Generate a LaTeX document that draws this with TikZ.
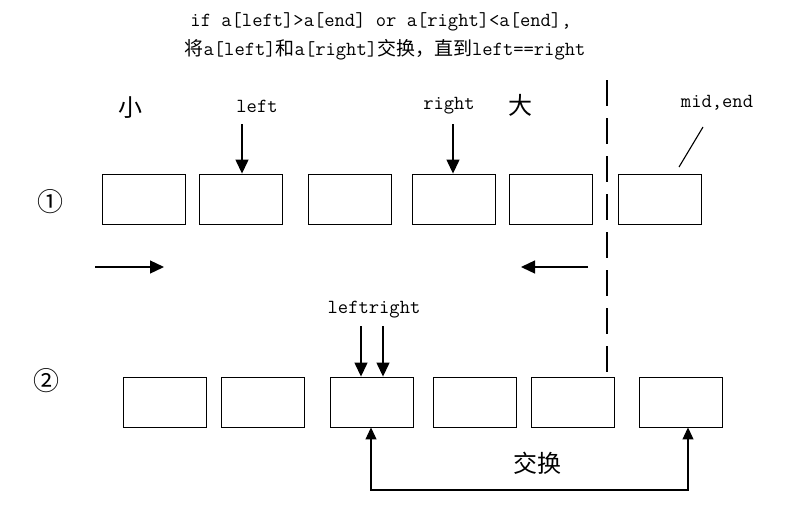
\documentclass[tikz,border=0pt]{standalone}
\usepackage{fontspec}
\newfontfamily\cjk{Noto Sans CJK SC}
\usetikzlibrary{arrows.meta,calc}
\begin{document}
\begin{tikzpicture}[x=1pt,y=-1pt,
  box/.style={draw,line width=0.9pt,minimum width=83pt,minimum height=50pt,inner sep=0pt},
  lab/.style={font=\ttfamily\fontsize{20}{22}\selectfont,inner sep=0pt},
  big/.style={font=\cjk\fontsize{24}{26}\selectfont,inner sep=0pt},
  num/.style={font=\cjk\fontsize{26}{28}\selectfont,inner sep=0pt},
  arr/.style={line width=1.3pt,-{Triangle[length=14pt,width=13pt]}},
  sarr/.style={line width=1.1pt,-{Triangle[length=12pt,width=11pt]}}]
\useasboundingbox (0,0) rectangle (798,509);
% title
\node[lab] (t1) at (381,22) {if a[left]>a[end] or a[right]<a[end],};
\node[lab] (t2) at (385,50) {{\cjk\fontsize{19}{20}\selectfont 将}a[left]{\cjk\fontsize{19}{20}\selectfont 和}a[right]{\cjk\fontsize{19}{20}\selectfont 交换，直到}left==right};
% row 1
\foreach \n/\x in {1/143.5,2/241,3/349.5,4/454,5/551,6/660}
  \node[box] (a\n) at (\x,199) {};
\node[num] (n1) at (50,202) {①};
\node[big] (small) at (130,108) {小};
\node[big] (large) at (520,105) {大};
\node[lab] (lleft) at (257,106) {left};
\node[lab] (lright) at (449,106) {right};
\node[lab] (lmid) at (717,103) {mid,end};
\coordinate (lt) at (242,124);
\coordinate (rt) at (453,124);
\draw[arr] (lt) -- (lt |- a2.north);
\draw[arr] (rt) -- (rt |- a4.north);
\coordinate (m1) at (703,127);
\coordinate (m2) at (679,167);
\draw[line width=1.1pt] (m1) -- (m2);
% direction arrows
\coordinate (r1) at (95,267);
\coordinate (r2) at (164,267);
\coordinate (l1) at (588,267);
\coordinate (l2) at (521,267);
\draw[arr] (r1) -- (r2);
\draw[arr] (l1) -- (l2);
% row 2
\foreach \n/\x in {1/165,2/263,3/371.5,4/475,5/573,6/681}
  \node[box] (b\n) at (\x,402) {};
\node[num] (n2) at (47,381) {②};
\node[lab] (llr) at (374,310) {leftright};
\coordinate (p1) at (361,326);
\coordinate (p2) at (383,326);
\draw[arr] (p1) -- (p1 |- b3.north);
\draw[arr] (p2) -- (p2 |- b3.north);
% dashed separator
\coordinate (dtop) at (607,80);
\draw[line width=1.3pt,dash pattern=on 26pt off 12pt] (dtop) -- (dtop |- b5.north);
% swap
\coordinate (s1) at (371,490);
\coordinate (s2) at (688,490);
\draw[sarr] (s1) -- (s2) -- (s2 |- b6.south);
\draw[sarr] (s2) -- (s1) -- (s1 |- b3.south);
\node[big] (swap) at (537,463) {交换};
\end{tikzpicture}
\end{document}
